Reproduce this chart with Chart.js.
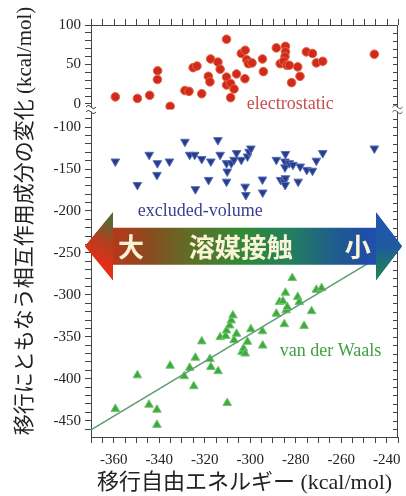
<!DOCTYPE html>
<html>
<head>
<meta charset="utf-8">
<script src="https://cdn.jsdelivr.net/npm/chart.js@4.4.1/dist/chart.umd.min.js"></script>
<style>
  html, body { margin: 0; padding: 0; background: #fff; }
  #wrap { width: 406px; height: 496px; }
</style>
</head>
<body>
<div id="wrap"><canvas id="chart" width="406" height="496"></canvas></div>
<script>
// 静電相互作用 (上段の軸)
const elecX = [-359.3, -349.6, -344.2, -340.7, -340.8, -335.2, -328.7, -326.9, -325.1, -323.4,
  -321.3, -318.4, -317.7, -317.4, -314.2, -313.2, -310.4, -310.4, -310.4, -308.6,
  -307.1, -308.6, -306.0, -303.9, -302.2, -302.3, -301.5, -300.8, -299.2, -294.6,
  -294.2, -288.5, -286.8, -284.5, -284.5, -284.7, -285.3, -283.9, -282.8, -281.8,
  -279.1, -278.1, -275.3, -272.6, -270.9, -268.1, -245.4];
const elecY = [9, 7, 11, 42, 31, -3, 17, 16, 46, 48,
  13, 35, 28, 57, 53, 44, 82, 34, 24, 26,
  19, 8, 38, 64, 68, 32, 56, 51, 52, 57,
  41, 71, 51, 73, 66, 60, 54, 49, 49, 27,
  47, 35, 66, 64, 52, 54, 63];

// 排除体積
const exclX = [-359.3, -349.6, -344.4, -340.8, -341.0, -335.5, -328.7, -326.6, -324.4, -324.1,
  -321.3, -318.3, -317.3, -314.2, -313.2, -310.4, -310.1, -310.4, -308.3, -307.1,
  -306.0, -303.9, -302.2, -301.9, -301.2, -300.5, -299.7, -294.6, -294.5, -288.5,
  -286.6, -285.1, -284.5, -284.7, -284.7, -284.5, -284.6, -282.8, -281.2, -278.9,
  -278.0, -275.1, -272.6, -270.9, -268.1, -245.4];
const exclY = [-141, -169, -133, -143, -157, -141, -117.5, -133, -133, -174,
  -138, -163, -141, -115.5, -133, -143, -153, -165, -143, -139,
  -131, -139, -171, -181, -135, -129.5, -125.5, -162.5, -178, -139,
  -163, -165, -132, -141, -148, -161, -169, -143, -145, -165,
  -147, -151, -152, -140, -131, -125.5];

// ファンデルワールス
const vdwX = [-359.3, -349.6, -344.5, -341.0, -341.0, -335.2, -329.0, -326.6, -324.8, -324.1,
  -321.3, -317.7, -317.3, -314.1, -313.2, -310.1, -310.8, -310.4, -309.0, -308.3,
  -307.6, -307.1, -306.0, -303.6, -302.9, -302.2, -301.2, -299.7, -294.6, -294.5,
  -288.5, -287.1, -285.6, -285.0, -284.5, -284.2, -283.7, -281.5, -279.1, -278.4,
  -276.3, -273.0, -270.9, -268.6];
const vdwY = [-436, -396, -431, -437, -455, -384.5, -397, -387, -409, -375,
  -355.5, -376.5, -386, -391, -350.5, -429, -349, -342.5, -336.5, -330.5,
  -324.5, -354, -346.5, -368, -364, -370, -356, -341, -343.5, -360.5,
  -322.5, -308.5, -307.5, -335, -297.5, -318.5, -314.5, -280, -302.5, -308.5,
  -337, -319.5, -294, -292];

// 回帰直線
const fitX = [-370, -235];
const fitY = [-461, -241];

const xTickLabels = [-360, -340, -320, -300, -280, -260, -240];
const yTopLabels = [0, 50, 100];
const yBottomLabels = [-450, -400, -350, -300, -250, -200, -150, -100];

const AXIS = '#444';
const NUM_FONT = "'Liberation Serif', 'Times New Roman', serif";
const MIX_FONT = "'Liberation Serif', 'Noto Sans CJK JP', serif";

const toPts = (xs, ys) => xs.map((x, i) => ({ x: x, y: ys[i] }));
const hasLabel = (list, v) => list.some(t => Math.abs(t - v) < 1e-6);

// 上・右の枠、軸の省略記号、矢印、系列名、縦軸タイトル
const decor = {
    id: 'decor',
    afterDraw(chart) {
        const { ctx, chartArea: a, scales } = chart;
        const x = scales.x, yHigh = scales.yHigh, yLow = scales.yLow;
        ctx.save();

        // 上と右の枠と目盛
        ctx.strokeStyle = AXIS;
        ctx.lineWidth = 1;
        ctx.beginPath();
        ctx.moveTo(a.left, a.top + 0.5);
        ctx.lineTo(a.right, a.top + 0.5);
        ctx.moveTo(a.right - 0.5, a.top);
        ctx.lineTo(a.right - 0.5, a.bottom);
        x.ticks.forEach(t => {
            const px = Math.round(x.getPixelForValue(t.value)) + 0.5;
            ctx.moveTo(px, a.top);
            ctx.lineTo(px, a.top - 6);
        });
        [yHigh, yLow].forEach(s => s.ticks.forEach(t => {
            const py = Math.round(s.getPixelForValue(t.value)) + 0.5;
            ctx.moveTo(a.right, py);
            ctx.lineTo(a.right - 5, py);
        }));
        ctx.stroke();

        // 軸の省略記号
        const yb = yHigh.bottom;
        [a.left, a.right - 0.5].forEach(ax => {
            ctx.fillStyle = '#fff';
            ctx.fillRect(ax - 6, yb - 2, 12, 4);
            ctx.beginPath();
            [-2.5, 2.5].forEach(dy => {
                for (let i = 0; i <= 10; i++) {
                    const px = ax - 5 + i;
                    const py = yb + dy - 1.5 * Math.sin(i / 10 * Math.PI * 2);
                    if (i === 0) ctx.moveTo(px, py); else ctx.lineTo(px, py);
                }
            });
            ctx.stroke();
        });

        // 溶媒接触の矢印
        const yc = yLow.getPixelForValue(-242);
        const xl = a.left - 6, xlb = a.left + 22, xrb = a.right - 22, xr = a.right + 4;
        const bh = 18.5, hh = 34;
        ctx.beginPath();
        ctx.moveTo(xl, yc);
        ctx.lineTo(xlb, yc - hh);
        ctx.lineTo(xlb, yc - bh);
        ctx.lineTo(xrb, yc - bh);
        ctx.lineTo(xrb, yc - hh);
        ctx.lineTo(xr, yc);
        ctx.lineTo(xrb, yc + hh);
        ctx.lineTo(xrb, yc + bh);
        ctx.lineTo(xlb, yc + bh);
        ctx.lineTo(xlb, yc + hh);
        ctx.closePath();
        const g = ctx.createLinearGradient(xl, 0, xr, 0);
        g.addColorStop(0, '#e3321b');
        g.addColorStop(0.1, '#b23a1c');
        g.addColorStop(0.2, '#8a4a1e');
        g.addColorStop(0.33, '#5f6e26');
        g.addColorStop(0.5, '#2f8a36');
        g.addColorStop(0.64, '#23805a');
        g.addColorStop(0.78, '#1f5f8a');
        g.addColorStop(0.88, '#1e4ea6');
        g.addColorStop(1, '#2455b2');
        ctx.fillStyle = g;
        ctx.fill();

        // 矢じりの色
        ctx.beginPath();
        ctx.moveTo(xl, yc);
        ctx.lineTo(xlb, yc - hh);
        ctx.lineTo(xlb, yc + hh);
        ctx.closePath();
        const gl = ctx.createLinearGradient(xlb, yc - hh, xl + 6, yc + 14);
        gl.addColorStop(0, '#2f7d3a');
        gl.addColorStop(0.55, '#b0401e');
        gl.addColorStop(1, '#e42e18');
        ctx.fillStyle = gl;
        ctx.fill();
        ctx.beginPath();
        ctx.moveTo(xr, yc);
        ctx.lineTo(xrb, yc - hh);
        ctx.lineTo(xrb, yc + hh);
        ctx.closePath();
        const gr = ctx.createLinearGradient(0, yc - hh, 0, yc + hh);
        gr.addColorStop(0, '#2256b4');
        gr.addColorStop(0.5, '#1f5aa0');
        gr.addColorStop(1, '#1d8a46');
        ctx.fillStyle = gr;
        ctx.fill();

        ctx.fillStyle = '#fbf3d5';
        ctx.font = "bold 26px 'Noto Sans CJK JP'";
        ctx.textAlign = 'center';
        ctx.textBaseline = 'middle';
        ctx.fillText('大', x.getPixelForValue(-352.4), yc + 1);
        ctx.fillText('溶媒接触', x.getPixelForValue(-304.2), yc + 1);
        ctx.fillText('小', x.getPixelForValue(-252.7), yc + 1);

        // 系列名
        ctx.font = '18px ' + NUM_FONT;
        ctx.fillStyle = '#c8504c';
        ctx.fillText('electrostatic', x.getPixelForValue(-282.4), yHigh.getPixelForValue(0));
        ctx.fillStyle = '#3b3f8f';
        ctx.fillText('excluded-volume', x.getPixelForValue(-322), yLow.getPixelForValue(-200.5));
        ctx.fillStyle = '#3f9f3f';
        ctx.fillText('van der Waals', x.getPixelForValue(-264.7), yLow.getPixelForValue(-367.5));

        // 縦軸タイトル
        ctx.translate(25, 221);
        ctx.rotate(-Math.PI / 2);
        ctx.fillStyle = '#222';
        ctx.font = '21px ' + MIX_FONT;
        ctx.fillText('移行にともなう相互作用成分の変化 (kcal/mol)', 0, 0);
        ctx.restore();
    }
};

const yTicks = (labels) => ({
    stepSize: 10,
    includeBounds: false,
    autoSkip: false,
    padding: 4,
    color: '#222',
    font: { family: NUM_FONT, size: 15 },
    callback: v => hasLabel(labels, v) ? String(v) : ''
});

new Chart(document.getElementById('chart'), {
    type: 'scatter',
    data: {
        datasets: [
            {
                label: 'fit',
                data: toPts(fitX, fitY),
                yAxisID: 'yLow',
                showLine: true,
                borderColor: '#5f9c72',
                borderWidth: 1.6,
                pointRadius: 0
            },
            {
                label: 'electrostatic',
                data: toPts(elecX, elecY),
                yAxisID: 'yHigh',
                pointStyle: 'circle',
                pointRadius: 4.3,
                pointBackgroundColor: '#cf2a1d',
                pointBorderColor: '#e4673d',
                pointBorderWidth: 1
            },
            {
                label: 'excluded-volume',
                data: toPts(exclX, exclY),
                yAxisID: 'yLow',
                pointStyle: 'triangle',
                pointRotation: 180,
                pointRadius: 5,
                pointBackgroundColor: '#2a3b8c',
                pointBorderColor: '#5670b8',
                pointBorderWidth: 1
            },
            {
                label: 'van der Waals',
                data: toPts(vdwX, vdwY),
                yAxisID: 'yLow',
                pointStyle: 'triangle',
                pointRadius: 5,
                pointBackgroundColor: '#3daa3d',
                pointBorderColor: '#73c673',
                pointBorderWidth: 1
            }
        ]
    },
    options: {
        responsive: false,
        animation: false,
        events: [],
        layout: { padding: { left: 45, right: 2, top: 25, bottom: 0 } },
        plugins: {
            legend: { display: false },
            tooltip: { enabled: false }
        },
        scales: {
            x: {
                type: 'linear',
                position: 'bottom',
                min: -370,
                max: -235,
                grid: { drawOnChartArea: false, tickLength: 6, color: AXIS },
                border: { color: AXIS },
                ticks: {
                    stepSize: 5,
                    includeBounds: false,
                    autoSkip: false,
                    maxRotation: 0,
                    padding: 8,
                    color: '#222',
                    font: { family: NUM_FONT, size: 15 },
                    callback: v => hasLabel(xTickLabels, v) ? String(v) : ''
                },
                title: {
                    display: true,
                    text: '移行自由エネルギー (kcal/mol)',
                    color: '#222',
                    font: { family: MIX_FONT, size: 22 },
                    padding: { top: 0, bottom: 0 }
                },
                afterFit: s => { s.height = 59; }
            },
            yLow: {
                type: 'linear',
                position: 'left',
                stack: 'y',
                stackWeight: 327.5,
                weight: 0,
                min: -469.5,
                max: -79,
                grid: { drawOnChartArea: false, tickLength: 6, color: AXIS },
                border: { color: AXIS },
                ticks: yTicks(yBottomLabels),
                afterFit: s => { s.width = 46; }
            },
            yHigh: {
                type: 'linear',
                position: 'left',
                stack: 'y',
                stackWeight: 84.5,
                weight: 1,
                min: -7,
                max: 100,
                grid: { drawOnChartArea: false, tickLength: 6, color: AXIS },
                border: { color: AXIS },
                ticks: yTicks(yTopLabels),
                afterFit: s => { s.width = 46; }
            }
        }
    },
    plugins: [decor]
});
</script>
</body>
</html>
